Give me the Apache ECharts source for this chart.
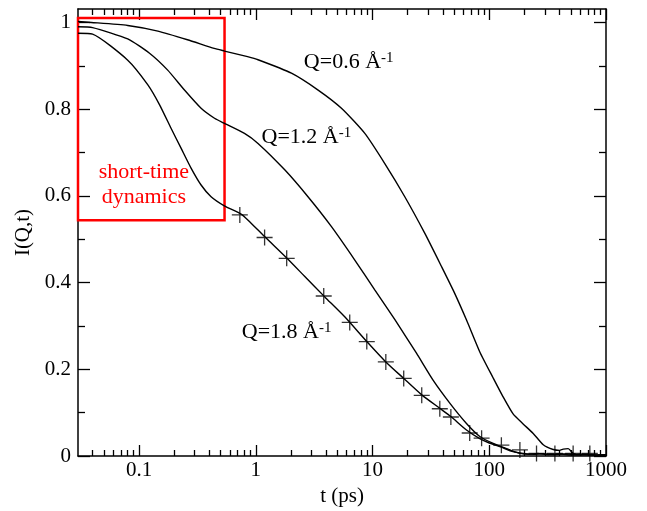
<!DOCTYPE html>
<html>
<head>
<meta charset="utf-8">
<script src="https://cdn.jsdelivr.net/npm/echarts@6/dist/echarts.min.js"></script>
<style>html,body{margin:0;padding:0;background:#fff}#c{width:647px;height:511px}</style>
</head>
<body>
<div id="c"></div>
<script>
// ---- data (t in ps, I(Q,t)) ----
const q06T = [0.03,0.039,0.08,0.145,0.26,0.44,0.54,0.85,1.045,2.02,3.42,5.42,8.59,12.7,18.9,28.0,39.0,50,64,83,108,131,160,195,238,290,353,400,430,474,523,600,700,800,900,1000];
const q06I = [1.002,1.000,0.993,0.980,0.960,0.940,0.934,0.921,0.914,0.883,0.844,0.802,0.744,0.675,0.598,0.514,0.437,0.378,0.313,0.240,0.180,0.137,0.097,0.074,0.052,0.026,0.015,0.013,0.016,0.017,0.006,0.002,0.003,0.002,0.003,0.002];

const q12T = [0.03,0.04,0.08,0.123,0.176,0.245,0.34,0.443,0.54,0.80,1.045,1.77,2.80,4.45,7.05,10.45,15.5,23.8,33,45.9,63.8,83,108,150,183,220,260,320,400,500,620,750,1000];
const q12I = [0.990,0.988,0.962,0.929,0.890,0.844,0.802,0.779,0.767,0.744,0.721,0.660,0.598,0.529,0.452,0.383,0.315,0.237,0.175,0.122,0.075,0.045,0.029,0.014,0.006,0.004,0.006,0.003,0.005,0.002,0.004,0.002,0.003];

const q18T = [0.03,0.04,0.08,0.119,0.15,0.188,0.229,0.279,0.34,0.414,0.538,0.748,0.859,1.19,1.85,2.63,3.90,5.78,8.93,13,18.5,26.4,37.7,46.9,63.8,83,100,125,160,195,240,300,360,450,550,700,850,1000];
const q18I = [0.975,0.973,0.913,0.856,0.810,0.756,0.710,0.664,0.625,0.598,0.577,0.558,0.544,0.506,0.456,0.414,0.367,0.321,0.264,0.217,0.179,0.141,0.110,0.091,0.060,0.040,0.030,0.021,0.010,0.006,0.004,0.005,0.003,0.005,0.003,0.004,0.002,0.003];

// "+" markers on the Q=1.8 curve
const markT = [0.73,1.19,1.84,3.82,6.38,8.93,13,18.5,26.4,37.7,46.9,68,86,127,183,254,365,523,727];
const markI = [0.556,0.504,0.456,0.369,0.308,0.264,0.217,0.179,0.140,0.109,0.090,0.053,0.041,0.025,0.014,0.006,0.006,0.006,0.006];

// ticks
const xMajor = [0.1,1,10,100,1000];
const xMinor = [0.04,0.05,0.06,0.07,0.08,0.09,0.2,0.3,0.4,0.5,0.6,0.7,0.8,0.9,2,3,4,5,6,7,8,9,20,30,40,50,60,70,80,90,200,300,400,500,600,700,800,900];
const yMajor = [0,0.2,0.4,0.6,0.8,1];
const yMinor = [0.1,0.3,0.5,0.7,0.9];

// annotations (data coordinates)
const boxT = [0.03,0.54];
const boxI = [1.01,0.544];
const labelQ06 = [2.58,0.909];
const labelQ12 = [1.12,0.736];
const labelQ18 = [0.759,0.285];
const labelShort = [0.11,0.625];

const zip = (a,b) => a.map((v,i)=>[v,b[i]]);
const FONT = 'Liberation Serif';
const BLACK = '#000';

function xAx(pos, major, showLine, showLabel, ticks, len){
  return {
    type:'log', logBase:10, min:0.03, max:1000, position:pos,
    axisLine:{show:showLine, onZero:false, lineStyle:{color:BLACK,width:1.5}},
    axisTick:{show:true, inside:true, length:len, customValues:ticks, lineStyle:{color:BLACK,width:1.3}},
    axisLabel:{show:showLabel, customValues:major, margin:4, color:BLACK, fontSize:21, fontFamily:FONT,
      formatter:(v)=>String(+(+v).toPrecision(6))},
    splitLine:{show:false}, minorTick:{show:false}
  };
}
function yAx(pos, showLine, showLabel, ticks, len){
  return {
    type:'value', min:0, max:1.031, position:pos,
    axisLine:{show:showLine, onZero:false, lineStyle:{color:BLACK,width:1.5}},
    axisTick:{show:true, inside:true, length:len, customValues:ticks, lineStyle:{color:BLACK,width:1.3}},
    axisLabel:{show:showLabel, customValues:yMajor, margin:7, color:BLACK, fontSize:21, fontFamily:FONT,
      formatter:(v)=>String(+(+v).toFixed(2))},
    splitLine:{show:false}
  };
}

const xAxes = [xAx('bottom', xMajor, true, true, xMajor, 11), xAx('bottom', xMajor, false, false, xMinor, 6),
               xAx('top', xMajor, true, false, xMajor, 11), xAx('top', xMajor, false, false, xMinor, 6)];
Object.assign(xAxes[0], {name:'t (ps)', nameLocation:'middle', nameGap:19,
  nameTextStyle:{color:BLACK, fontSize:21, fontFamily:FONT}});
const yAxes = [yAx('left', true, true, yMajor, 12), yAx('left', false, false, yMinor, 7),
               yAx('right', true, false, yMajor, 12), yAx('right', false, false, yMinor, 7)];
Object.assign(yAxes[0], {name:'I(Q,t)', nameLocation:'middle', nameGap:43,
  nameTextStyle:{color:BLACK, fontSize:21, fontFamily:FONT}});

const qRich = {
  m:{fontSize:22, fontFamily:FONT, color:BLACK, lineHeight:23},
  s:{fontSize:15, fontFamily:FONT, color:BLACK, lineHeight:15, verticalAlign:'top'}
};
function qLabel(coord, txt){
  return {coord:coord, symbol:'circle', symbolSize:0,
    label:{show:true, position:'right', distance:0, formatter:'{m|'+txt+' Å}{s|-1}', rich:qRich}};
}

const lineBase = {type:'line', showSymbol:false, symbol:'none', smooth:0.2,
  xAxisIndex:0, yAxisIndex:0, lineStyle:{color:BLACK, width:1.4}, animation:false, silent:true};

const option = {
  animation:false,
  grid:{left:78, right:41, top:9, bottom:55, containLabel:false, outerBoundsMode:'none'},
  xAxis: xAxes,
  yAxis: yAxes,
  series:[
    Object.assign({}, lineBase, {name:'Q=0.6', data:zip(q06T,q06I),
      markPoint:{silent:true, animation:false, data:[qLabel(labelQ06,'Q=0.6')]}}),
    Object.assign({}, lineBase, {name:'Q=1.2', data:zip(q12T,q12I),
      markPoint:{silent:true, animation:false, data:[qLabel(labelQ12,'Q=1.2')]}}),
    Object.assign({}, lineBase, {name:'Q=1.8', data:zip(q18T,q18I),
      markPoint:{silent:true, animation:false, data:[qLabel(labelQ18,'Q=1.8'),
        {coord:labelShort, symbol:'circle', symbolSize:0,
         label:{show:true, position:'inside', formatter:'short-time\ndynamics', color:'#ff0000',
           fontSize:22, lineHeight:25, fontFamily:FONT, align:'center', verticalAlign:'middle'}}]},
      markArea:{silent:true, animation:false,
        itemStyle:{color:'rgba(0,0,0,0)', borderColor:'#ff0000', borderWidth:2.5},
        data:[[{coord:[boxT[0],boxI[0]]},{coord:[boxT[1],boxI[1]]}]]}}),
    {type:'scatter', name:'markers', data:zip(markT,markI), xAxisIndex:0, yAxisIndex:0,
      symbol:'path://M8,0L8,16M0,8L16,8', symbolSize:16, animation:false, silent:true,
      itemStyle:{color:'rgba(0,0,0,0)', borderColor:BLACK, borderWidth:1.3}}
  ]
};
const chart = echarts.init(document.getElementById('c'), null, {renderer:'canvas'});
chart.setOption(option);
</script>
</body>
</html>
